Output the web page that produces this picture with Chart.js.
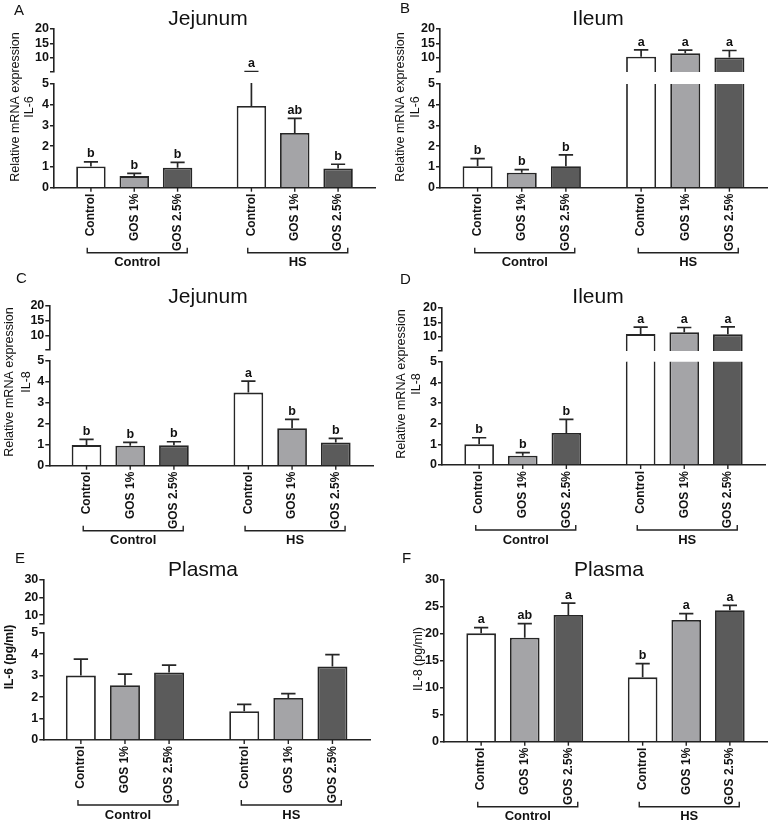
<!DOCTYPE html>
<html><head><meta charset="utf-8">
<script src="https://cdn.jsdelivr.net/npm/chart.js@4.4.0/dist/chart.umd.min.js"></script>
<style>
html,body{margin:0;padding:0;background:#fff;}
#fig{position:relative;width:770px;height:824px;overflow:hidden;background:#fff;}
#fig canvas{position:absolute;}
</style></head><body><div id="fig"></div>
<script>
// ---------- data ----------
const treatments = ['Control', 'GOS 1%', 'GOS 2.5%'];
const groups = ['Control', 'HS'];
const barColors = ['#ffffff', '#a4a4a7', '#5b5b5b'];

const lowerTicks = [0, 1, 2, 3, 4, 5];
const upperTicksMRNA = [5, 10, 15, 20];
const upperTicksPlasma = [5, 10, 20, 30];
const ticksPlasmaIL8 = [0, 5, 10, 15, 20, 25, 30];

// each row = treatment (Control, GOS 1%, GOS 2.5%), columns = group (Control, HS)
const jejIL6Mean = [[1.02, 3.94], [0.56, 2.64], [0.96, 0.93]];
const jejIL6Sem = [[0.23, 1.16], [0.13, 0.70], [0.26, 0.20]];
const jejIL6Letters = [['b', 'a'], ['b', 'ab'], ['b', 'b']];

const ileIL6Mean = [[1.04, 10.3], [0.72, 11.5], [1.04, 10.1]];
const ileIL6Sem = [[0.36, 2.4], [0.15, 1.1], [0.54, 2.4]];
const ileIL6Letters = [['b', 'a'], ['b', 'a'], ['b', 'a']];

const jejIL8Mean = [[0.98, 3.48], [0.95, 1.78], [0.97, 1.11]];
const jejIL8Sem = [[0.27, 0.55], [0.16, 0.43], [0.17, 0.19]];
const jejIL8Letters = [['b', 'a'], ['b', 'b'], ['b', 'b']];

const ileIL8Mean = [[1.0, 10.9], [0.45, 11.5], [1.55, 10.8]];
const ileIL8Sem = [[0.32, 2.4], [0.15, 1.7], [0.66, 2.6]];
const ileIL8Letters = [['b', 'a'], ['b', 'a'], ['b', 'a']];

const plaIL6Mean = [[3.0, 1.34], [2.55, 1.96], [3.15, 3.42]];
const plaIL6Sem = [[0.77, 0.32], [0.52, 0.20], [0.34, 0.56]];

const plaIL8Mean = [[20.1, 11.94], [19.3, 22.6], [23.5, 24.4]];
const plaIL8Sem = [[1.05, 2.53], [2.6, 1.15], [2.2, 0.9]];
const plaIL8Letters = [['a', 'b'], ['ab', 'a'], ['a', 'a']];

// ---------- layout ----------
const FONT = "'Liberation Sans', Arial, Helvetica, sans-serif";
const INK = '#222';
Chart.defaults.font.family = FONT;

const panels = [
  {letter:'A', title:'Jejunum', yTitle:['Relative mRNA expression','IL-6'], yBold:false,
   mean:jejIL6Mean, sem:jejIL6Sem, letters:jejIL6Letters, lowTicks:lowerTicks, upTicks:upperTicksMRNA,
   left:0, top:0, h:290, axisX:54, xRight:375, uTop:28.7, uBot:72.3, lTop:84, lBot:187.7,
   titleX:208, titleY:25, letterX:14, letterY:15, yTitleX:[15.5,30], yTitleY:107},
  {letter:'B', title:'Ileum', yTitle:['Relative mRNA expression','IL-6'], yBold:false,
   mean:ileIL6Mean, sem:ileIL6Sem, letters:ileIL6Letters, lowTicks:lowerTicks, upTicks:upperTicksMRNA,
   left:385, top:0, h:290, axisX:55, xRight:382, uTop:28.7, uBot:72.3, lTop:84, lBot:187.7,
   titleX:213, titleY:25, letterX:15, letterY:13, yTitleX:[15.5,31], yTitleY:107},
  {letter:'C', title:'Jejunum', yTitle:['Relative mRNA expression','IL-8'], yBold:false,
   mean:jejIL8Mean, sem:jejIL8Sem, letters:jejIL8Letters, lowTicks:lowerTicks, upTicks:upperTicksMRNA,
   left:0, top:270, h:290, axisX:49.3, xRight:373, uTop:36, uBot:80, lTop:90.7, lBot:195.7,
   titleX:208, titleY:33, letterX:16, letterY:13, yTitleX:[10,27], yTitleY:112},
  {letter:'D', title:'Ileum', yTitle:['Relative mRNA expression','IL-8'], yBold:false,
   mean:ileIL8Mean, sem:ileIL8Sem, letters:ileIL8Letters, lowTicks:lowerTicks, upTicks:upperTicksMRNA,
   left:385, top:270, h:290, axisX:57, xRight:380, uTop:37.7, uBot:80.7, lTop:91.7, lBot:195,
   titleX:213, titleY:33, letterX:15, letterY:14, yTitleX:[17,32], yTitleY:114},
  {letter:'E', title:'Plasma', yTitle:['IL-6 (pg/ml)'], yBold:true,
   mean:plaIL6Mean, sem:plaIL6Sem, letters:null, lowTicks:lowerTicks, upTicks:upperTicksPlasma,
   left:0, top:540, h:284, axisX:43.3, xRight:370, uTop:40, uBot:84, lTop:92.7, lBot:200,
   titleX:203, titleY:36, letterX:15, letterY:23, yTitleX:[10], yTitleY:117},
  {letter:'F', title:'Plasma', yTitle:['IL-8 (pg/ml)'], yBold:false,
   mean:plaIL8Mean, sem:plaIL8Sem, letters:plaIL8Letters, lowTicks:ticksPlasmaIL8, upTicks:null,
   left:385, top:540, h:284, axisX:59, xRight:382, lTop:40, lBot:201.7,
   titleX:224, titleY:36, letterX:17, letterY:23, yTitleX:[34], yTitleY:119}
];

const fig = document.getElementById('fig');
function makeCanvas(left, top, w, h) {
  const c = document.createElement('canvas');
  c.width = w; c.height = h;
  c.style.left = left + 'px'; c.style.top = top + 'px';
  c.style.width = w + 'px'; c.style.height = h + 'px';
  fig.appendChild(c);
  return c;
}

function buildDatasets(p) {
  return treatments.map((t, i) => ({
    label: t,
    data: p.mean[i],
    sem: p.sem[i],
    letters: p.letters ? p.letters[i] : null,
    backgroundColor: barColors[i],
    borderColor: '#262626',
    borderWidth: 1.8,
    borderSkipped: 'start',
    clip: 0,
    categoryPercentage: 0.81,
    barPercentage: 0.68
  }));
}

// error bars + significance letters; part: 'lower' | 'upper' | 'single'
function errPlugin(part) {
  return {
    id: 'errBars',
    afterDatasetsDraw(chart) {
      const {ctx, chartArea: a} = chart;
      const y = chart.scales.y;
      chart.data.datasets.forEach((ds, di) => {
        const meta = chart.getDatasetMeta(di);
        meta.data.forEach((bar, j) => {
          const topVal = ds.data[j] + ds.sem[j];
          const yTop = y.getPixelForValue(topVal);
          const cap = bar.width * 0.24;
          ctx.save();
          ctx.beginPath();
          ctx.rect(a.left, a.top - 1, a.right - a.left, a.bottom - a.top + 1);
          ctx.clip();
          ctx.strokeStyle = '#262626';
          ctx.lineWidth = 1.7;
          ctx.beginPath();
          ctx.moveTo(bar.x, bar.y);
          ctx.lineTo(bar.x, yTop);
          ctx.moveTo(bar.x - cap, yTop);
          ctx.lineTo(bar.x + cap, yTop);
          ctx.stroke();
          ctx.restore();
          if (ds.letters) {
            const show = part === 'single' ||
              (part === 'lower' && topVal <= y.max) ||
              (part === 'upper' && topVal > y.min);
            if (show) {
              ctx.save();
              ctx.fillStyle = '#111';
              ctx.font = 'bold 12.5px ' + FONT;
              ctx.textAlign = 'center';
              ctx.textBaseline = 'bottom';
              ctx.fillText(ds.letters[j], bar.x, yTop - 1.5);
              ctx.restore();
            }
          }
        });
      });
    }
  };
}

function decoPlugin(p) {
  return {
    id: 'deco',
    afterDraw(chart) {
      const {ctx, chartArea: a} = chart;
      const x = chart.scales.x;
      ctx.save();
      ctx.fillStyle = '#111';
      // panel letter
      ctx.font = '15px ' + FONT;
      ctx.textAlign = 'left'; ctx.textBaseline = 'alphabetic';
      ctx.fillText(p.letter, p.letterX, p.letterY);
      // title
      ctx.font = '21px ' + FONT;
      ctx.textAlign = 'center';
      ctx.fillText(p.title, p.titleX, p.titleY);
      // y titles
      p.yTitle.forEach((t, k) => {
        ctx.save();
        ctx.translate(p.yTitleX[k], p.yTitleY);
        ctx.rotate(-Math.PI / 2);
        ctx.font = (p.yBold ? 'bold 12px ' : '12.5px ') + FONT;
        ctx.textAlign = 'center'; ctx.textBaseline = 'middle';
        ctx.fillText(t, 0, 0);
        ctx.restore();
      });
      // bar tick marks + rotated labels
      ctx.strokeStyle = INK; ctx.lineWidth = 1.4;
      chart.data.datasets.forEach((ds, di) => {
        chart.getDatasetMeta(di).data.forEach((bar) => {
          ctx.beginPath();
          ctx.moveTo(bar.x, a.bottom);
          ctx.lineTo(bar.x, a.bottom + 4);
          ctx.stroke();
          ctx.save();
          ctx.translate(bar.x, a.bottom + 6);
          ctx.rotate(-Math.PI / 2);
          ctx.font = 'bold 12px ' + FONT;
          ctx.textAlign = 'right'; ctx.textBaseline = 'middle';
          ctx.fillText(ds.label, 0, 0);
          ctx.restore();
        });
      });
      // group brackets
      groups.forEach((g, gi) => {
        const cx = x.getPixelForValue(gi);
        const yb = a.bottom + 65;
        ctx.beginPath();
        ctx.moveTo(cx - 47, yb - 5);
        ctx.lineTo(cx - 47, yb);
        ctx.lineTo(cx + 53, yb);
        ctx.lineTo(cx + 53, yb - 5);
        ctx.stroke();
        ctx.font = 'bold 13px ' + FONT;
        ctx.textAlign = 'center'; ctx.textBaseline = 'middle';
        ctx.fillText(g, cx + 3, a.bottom + 75);
      });
      ctx.restore();
    }
  };
}

function yScale(min, max, ticks, width, hideMin) {
  return {
    type: 'linear', min: min, max: max,
    afterBuildTicks: s => { s.ticks = ticks.map(v => ({value: v})); },
    afterFit: s => { s.width = width; },
    ticks: {
      color: '#111', padding: 1, autoSkip: false,
      font: {family: FONT, size: 12.5, weight: 'bold'},
      callback: v => (hideMin && v === min) ? '' : String(v)
    },
    grid: {display: true, drawOnChartArea: false, drawTicks: true, tickLength: 4, color: INK, lineWidth: 1.5},
    border: {display: true, color: INK, width: 1.6}
  };
}

panels.forEach(p => {
  const W = 385;
  const single = !p.upTicks;
  const lowMax = p.lowTicks[p.lowTicks.length - 1];
  // lower (or single) chart covering full panel
  const lc = makeCanvas(p.left, p.top, W, p.h);
  new Chart(lc, {
    type: 'bar',
    data: {labels: groups, datasets: buildDatasets(p)},
    options: {
      responsive: false, animation: false, devicePixelRatio: 1, events: [],
      layout: {padding: {top: p.lTop, left: 0, right: W - p.xRight, bottom: 0}},
      plugins: {legend: {display: false}, tooltip: {enabled: false}},
      scales: {
        x: {type: 'category', grid: {display: false}, ticks: {display: false},
            border: {display: true, color: INK, width: 1.6},
            afterFit: s => { s.height = p.h - p.lBot; }},
        y: yScale(0, lowMax, p.lowTicks, p.axisX, false)
      }
    },
    plugins: [errPlugin(single ? 'single' : 'lower'), decoPlugin(p)]
  });
  if (!single) {
    const upMax = p.upTicks[p.upTicks.length - 1];
    const upMin = p.upTicks[0];
    const pad = 10;
    const uc = makeCanvas(p.left, p.top + p.uTop - pad, W, (p.uBot - p.uTop) + 2 * pad);
    new Chart(uc, {
      type: 'bar',
      data: {labels: groups, datasets: buildDatasets(p)},
      options: {
        responsive: false, animation: false, devicePixelRatio: 1, events: [],
        layout: {padding: {top: pad, left: 0, right: W - p.xRight, bottom: pad}},
        plugins: {legend: {display: false}, tooltip: {enabled: false}},
        scales: {
          x: {type: 'category', display: false},
          y: yScale(upMin, upMax, p.upTicks, p.axisX, true)
        }
      },
      plugins: [errPlugin('upper')]
    });
  }
});
</script>
</body></html>
